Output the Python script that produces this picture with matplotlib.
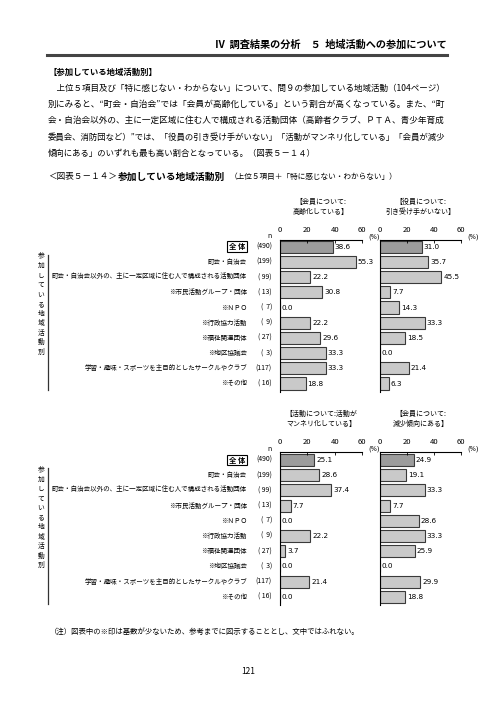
"""Recreate figure 5-14: local activity participation vs. reported problems."""

import matplotlib
matplotlib.use("Agg")
import matplotlib.pyplot as plt

plt.rcParams["font.family"] = ["Noto Sans CJK JP", "DejaVu Sans"]

W, H = 496, 702

categories = [
    "全 体",
    "町会・自治会",
    "町会・自治会以外の、主に一定区域に住む人で構成される活動団体",
    "※市民活動グループ・団体",
    "※ＮＰＯ",
    "※行政協力活動",
    "※福祉関連団体",
    "※地区協議会",
    "学習・趣味・スポーツを主目的としたサークルやクラブ",
    "※その他",
]
n_labels = ["(490)", "(199)", "( 99)", "( 13)", "(  7)", "(  9)", "( 27)", "(  3)", "(117)", "( 16)"]

aging = [38.6, 55.3, 22.2, 30.8, 0.0, 22.2, 29.6, 33.3, 33.3, 18.8]
no_successor = [31.0, 35.7, 45.5, 7.7, 14.3, 33.3, 18.5, 0.0, 21.4, 6.3]
routine = [25.1, 28.6, 37.4, 7.7, 0.0, 22.2, 3.7, 0.0, 21.4, 0.0]
declining = [24.9, 19.1, 33.3, 7.7, 28.6, 33.3, 25.9, 0.0, 29.9, 18.8]

panel_titles = [
    "【会員について:\n高齢化している】",
    "【役員について:\n引き受け手がいない】",
    "【活動について:活動が\nマンネリ化している】",
    "【会員について:\n減少傾向にある】",
]
ticks = [0, 20, 40, 60]

header = "Ⅳ  調査結果の分析　５  地域活動への参加について"
section = "【参加している地域活動別】"
body_lines = [
    "　上位５項目及び「特に感じない・わからない」について、問９の参加している地域活動（104ページ）",
    "別にみると、“町会・自治会”では「会員が高齢化している」という割合が高くなっている。また、“町",
    "会・自治会以外の、主に一定区域に住む人で構成される活動団体（高齢者クラブ、ＰＴＡ、青少年育成",
    "委員会、消防団など）”では、「役員の引き受け手がいない」「活動がマンネリ化している」「会員が減少",
    "傾向にある」のいずれも最も高い割合となっている。（図表５－１４）",
]
note = "（注）図表中の※印は基数が少ないため、参考までに図示することとし、文中ではふれない。"
group_label = "参加している地域活動別"


def fx(x):
    return x / W


def fy(y):
    return 1 - y / H


def add_panel(fig, x0, x1, y_axis, y_first, values, title):
    step = 15.2
    y_bottom = y_first + 9 * step + 8
    ax = fig.add_axes([fx(x0), fy(y_bottom), (x1 - x0) / W, (y_bottom - y_axis) / H])
    top_pad = (y_first - y_axis) / step
    ax.set_xlim(0, 60)
    ax.set_ylim(9 + 8 / step, -top_pad)
    colors = ["#9c9c9c"] + ["#c9c9c9"] * (len(values) - 1)
    ypos = list(range(len(values)))
    ax.barh(ypos, values, height=0.8, color=colors, edgecolor="#3a3a3a", linewidth=0.8)
    for y, v in zip(ypos, values):
        ax.text(v + 1.4, y, f"{v:.1f}", va="center", ha="left", fontsize=5.2,
                family="DejaVu Sans")
    for s in ("right", "bottom"):
        ax.spines[s].set_visible(False)
    ax.spines["top"].set_linewidth(0.8)
    ax.spines["left"].set_linewidth(0.8)
    ax.xaxis.tick_top()
    ax.set_xticks(ticks)
    ax.tick_params(axis="x", direction="in", length=2.5, width=0.6, labelsize=5.5, pad=4)
    ax.set_yticks([])
    ax.set_facecolor("none")
    fig.text(fx(x1 + 6), fy(y_axis - 3), "(%)", fontsize=4.8, ha="left", va="center",
             family="DejaVu Sans")
    fig.text(fx((x0 + x1) / 2), fy(y_axis - 33), title, fontsize=5, ha="center",
             va="center", linespacing=1.3)
    return ax


def add_labels(fig, y_axis, y_first, line_bottom):
    step = 15.2
    fig.text(fx(269), fy(y_first - 11), "n", fontsize=5, ha="center", va="center")
    for i, (cat, n) in enumerate(zip(categories, n_labels)):
        y = y_first + i * step
        if i == 0:
            fig.text(fx(237), fy(y), cat, fontsize=5.3, ha="center", va="center",
                     weight="bold",
                     bbox=dict(boxstyle="square,pad=0.25", fc="white", ec="black", lw=0.8))
        else:
            fig.text(fx(247), fy(y), cat, fontsize=4.7, ha="right", va="center")
        fig.text(fx(272), fy(y), n, fontsize=5, ha="right", va="center")
    # bracket on the left with the vertical group label
    fig.add_artist(plt.Line2D([fx(48), fx(48)], [fy(y_first + 8), fy(line_bottom)],
                              color="#333333", lw=0.9))
    for j, ch in enumerate(group_label):
        fig.text(fx(41), fy(y_first + 10 + j * 9.5), ch, fontsize=4.9,
                 ha="center", va="center")


def justified_line(fig, renderer, x_left, x_right, y, line, size):
    # stretch the line to the text column like the printed page
    t = fig.text(fx(x_left), fy(y), line, fontsize=size, ha="left", va="center")
    width = t.get_window_extent(renderer).width
    if x_right is not None and width > 0:
        t.set_fontsize(size * (x_right - x_left) / width)
    return t


def main():
    fig = plt.figure(figsize=(W / 100, H / 100), dpi=100)
    renderer = fig.canvas.get_renderer()

    fig.text(fx(447), fy(45), header, fontsize=7.3, ha="right", va="center", weight="bold")
    fig.add_artist(plt.Line2D([fx(47), fx(447)], [fy(55), fy(55)], color="#444444", lw=2.2))
    fig.text(fx(48), fy(72), section, fontsize=6, ha="left", va="center", weight="bold")
    for i, line in enumerate(body_lines):
        right = 447 if i < len(body_lines) - 1 else None
        justified_line(fig, renderer, 48, right, 88 + i * 16.3, line, 6)

    fig.text(fx(48), fy(177), "＜図表５－１４＞", fontsize=6.2, ha="left", va="center")
    fig.text(fx(118), fy(177), "参加している地域活動別", fontsize=7, ha="left", va="center",
             weight="bold")
    fig.text(fx(230), fy(177), "（上位５項目＋「特に感じない・わからない」）", fontsize=5.5,
             ha="left", va="center")

    # top block
    add_panel(fig, 280, 362, 240, 246.7, aging, panel_titles[0])
    add_panel(fig, 380, 461, 240, 246.7, no_successor, panel_titles[1])
    add_labels(fig, 240, 246.7, 390)

    # bottom block
    add_panel(fig, 280, 362, 452, 460, routine, panel_titles[2])
    add_panel(fig, 380, 461, 452, 460, declining, panel_titles[3])
    add_labels(fig, 452, 460, 604)

    fig.text(fx(50), fy(632), note, fontsize=5.3, ha="left", va="center")
    fig.text(fx(248), fy(672), "121", fontsize=6, ha="center", va="center")

    fig.savefig("out.png", dpi=100, facecolor="white")


if __name__ == "__main__":
    main()
